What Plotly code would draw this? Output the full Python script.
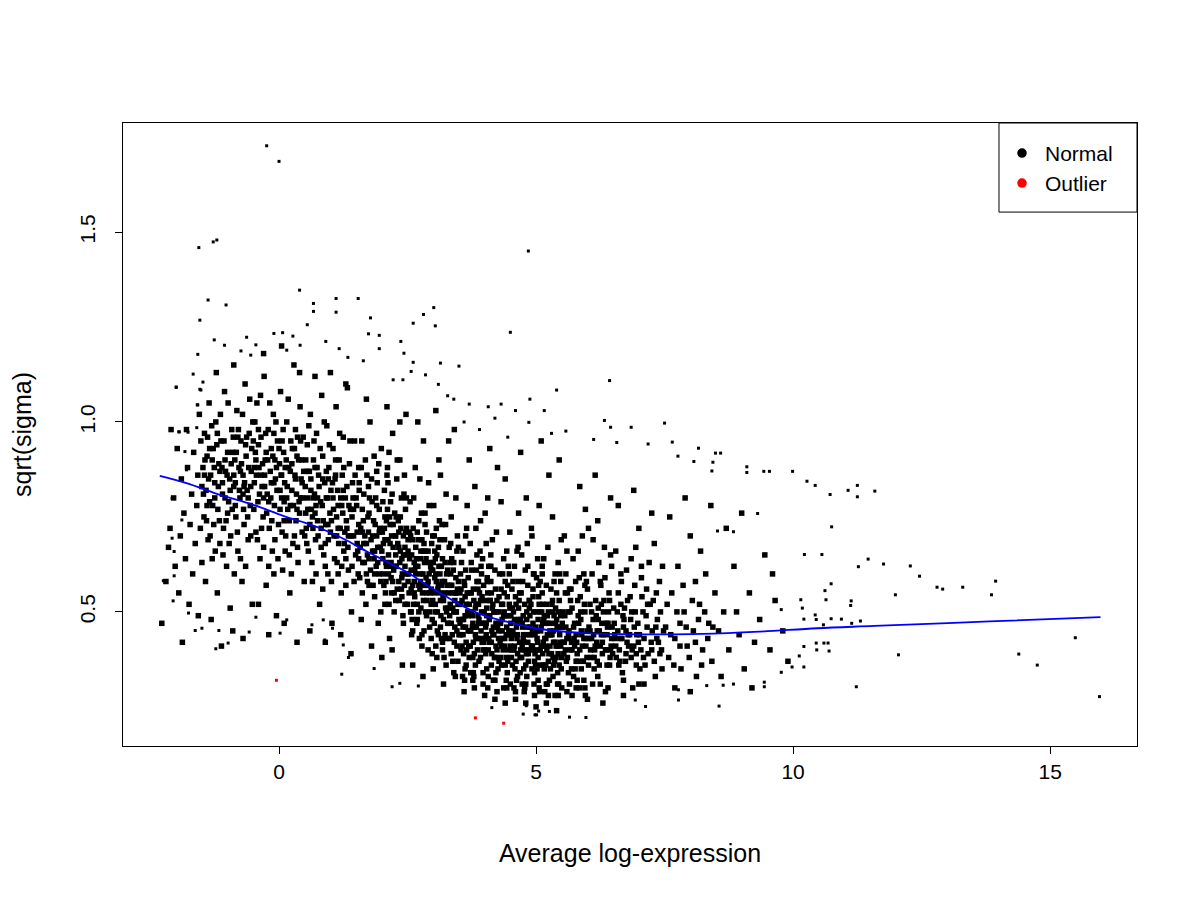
import plotly.graph_objects as go

# hand-read points of the "Normal" cloud, grouped by x band
band_a = [(-2.28, 0.47), (-2.2, 0.58), (-2.15, 0.67), (-2.12, 0.72), (-2.05, 0.80), (-2.02, 0.62),
          (-1.98, 0.93), (-1.95, 0.55), (-1.92, 0.70), (-1.9, 0.85), (-1.88, 0.42), (-1.85, 0.76),
          (-1.82, 0.64), (-1.8, 0.98), (-1.78, 0.88), (-1.75, 0.52), (-1.73, 0.73), (-1.7, 0.81),
          (-1.68, 0.60), (-1.66, 0.92), (-1.63, 0.68), (-1.6, 0.78), (-1.58, 0.86), (-1.57, 0.49),
          (-1.55, 1.02), (-1.53, 0.72), (-1.52, 0.95), (-1.5, 0.63), (-1.5, 0.83), (-2.1, 0.98)]
band_b = [(-1.48, 0.88), (-1.46, 0.75), (-1.45, 0.97), (-1.43, 0.58), (-1.42, 0.82), (-1.4, 0.91),
          (-1.38, 0.69), (-1.36, 1.05), (-1.35, 0.79), (-1.33, 0.86), (-1.3, 0.64), (-1.28, 0.93),
          (-1.27, 0.73), (-1.25, 0.84), (-1.23, 1.0), (-1.2, 0.55), (-1.19, 0.77), (-1.17, 0.89),
          (-1.15, 0.68), (-1.13, 0.95), (-1.1, 0.81), (-1.08, 0.72), (-1.06, 1.08), (-1.04, 0.87),
          (-1.02, 0.62), (-1.0, 0.92), (-0.98, 0.79), (-0.96, 0.85), (-0.94, 0.70), (-0.92, 0.98),
          (-0.9, 0.45), (-0.88, 0.83), (-0.86, 0.9), (-0.84, 0.75), (-0.82, 1.03), (-0.8, 0.66),
          (-0.78, 0.88), (-0.76, 0.8), (-0.74, 0.95), (-0.72, 0.58), (-0.7, 0.86), (-0.68, 0.73),
          (-0.66, 1.1), (-0.64, 0.91), (-0.62, 0.82), (-0.6, 0.69), (-0.58, 0.97), (-0.56, 0.78),
          (-0.54, 0.87), (-0.52, 0.52), (-0.51, 1.0), (-1.32, 0.48), (-1.12, 0.41), (-0.95, 0.51),
          (-0.7, 0.43), (-1.22, 1.13), (-0.88, 1.15),
          (-1.47, 0.81), (-1.44, 0.9), (-1.41, 0.74), (-1.39, 0.96), (-1.37, 0.85), (-1.34, 0.7),
          (-1.31, 0.99), (-1.29, 0.78), (-1.26, 0.88), (-1.24, 0.66), (-1.21, 0.94), (-1.18, 0.83),
          (-1.16, 0.74), (-1.14, 1.02), (-1.11, 0.88), (-1.09, 0.65), (-1.07, 0.95), (-1.05, 0.8),
          (-1.03, 0.74), (-1.01, 0.86), (-0.99, 1.05), (-0.97, 0.68), (-0.93, 0.89), (-0.91, 0.77),
          (-0.89, 0.96), (-0.87, 0.6), (-0.85, 0.84), (-0.83, 0.92), (-0.81, 0.71), (-0.79, 0.98),
          (-0.77, 0.82), (-0.75, 0.64), (-0.73, 0.89), (-0.71, 1.02), (-0.69, 0.77), (-0.67, 0.84),
          (-0.65, 0.62), (-0.63, 0.96), (-0.61, 0.75), (-0.59, 0.88), (-0.57, 1.06), (-0.55, 0.7),
          (-0.53, 0.93)]
band_c = [(-0.48, 0.84), (-0.46, 0.92), (-0.45, 0.71), (-0.43, 1.05), (-0.41, 0.79), (-0.39, 0.88),
          (-0.37, 0.64), (-0.35, 0.96), (-0.33, 0.83), (-0.31, 0.75), (-0.29, 1.12), (-0.27, 0.9),
          (-0.25, 0.57), (-0.23, 0.81), (-0.21, 0.98), (-0.19, 0.72), (-0.17, 0.87), (-0.15, 0.93),
          (-0.13, 0.66), (-0.11, 1.02), (-0.09, 0.78), (-0.07, 0.85), (-0.05, 0.49), (-0.03, 0.95),
          (-0.01, 0.73), (0.01, 0.89), (0.03, 1.08), (0.05, 0.8), (0.07, 0.61), (0.09, 0.92),
          (0.11, 0.84), (0.13, 0.7), (0.15, 1.0), (0.17, 0.77), (0.19, 0.88), (0.21, 0.55),
          (0.23, 0.95), (0.25, 0.82), (0.27, 0.68), (0.29, 1.15), (0.31, 0.86), (0.33, 0.74),
          (0.35, 0.91), (0.37, 0.63), (0.39, 0.79), (0.41, 1.04), (0.43, 0.85), (0.45, 0.71),
          (0.47, 0.96), (0.49, 0.58), (-0.4, 0.52), (-0.2, 0.44), (0.1, 0.47), (0.35, 0.42),
          (-0.3, 1.18), (0.05, 1.2), (0.4, 1.13), (-0.1, 0.6), (0.2, 0.65), (0.44, 0.9),
          (-0.49, 0.77), (-0.47, 1.0), (-0.44, 0.86), (-0.42, 0.69), (-0.4, 0.94), (-0.38, 0.81),
          (-0.36, 1.07), (-0.34, 0.72), (-0.32, 0.89), (-0.3, 0.67), (-0.28, 0.83), (-0.26, 0.97),
          (-0.24, 0.76), (-0.22, 0.9), (-0.2, 0.62), (-0.18, 1.05), (-0.16, 0.8), (-0.14, 0.74),
          (-0.12, 0.91), (-0.1, 0.84), (-0.08, 0.69), (-0.06, 1.0), (-0.04, 0.82), (-0.02, 0.64),
          (0.0, 0.93), (0.02, 0.77), (0.04, 0.86), (0.06, 0.71), (0.08, 0.98), (0.1, 0.79),
          (0.12, 0.66), (0.14, 0.9), (0.16, 0.83), (0.18, 1.06), (0.2, 0.74), (0.22, 0.87),
          (0.24, 0.6), (0.26, 0.93), (0.28, 0.78), (0.3, 0.7), (0.32, 0.98), (0.34, 0.81),
          (0.36, 0.67), (0.38, 0.9), (0.4, 0.76), (0.42, 0.95), (0.46, 0.8), (0.48, 0.87)]
band_d = [(0.51, 0.83), (0.53, 0.72), (0.55, 0.94), (0.57, 0.66), (0.59, 0.87), (0.61, 1.02),
          (0.63, 0.77), (0.65, 0.58), (0.67, 0.9), (0.69, 0.81), (0.71, 0.69), (0.73, 0.97),
          (0.75, 0.74), (0.77, 0.86), (0.79, 0.52), (0.81, 0.79), (0.83, 1.07), (0.85, 0.91),
          (0.87, 0.65), (0.89, 0.84), (0.91, 0.73), (0.93, 0.99), (0.95, 0.6), (0.97, 0.88),
          (0.99, 0.76), (1.01, 0.82), (1.03, 0.47), (1.05, 0.93), (1.07, 0.7), (1.09, 0.85),
          (1.11, 1.04), (1.13, 0.63), (1.15, 0.78), (1.17, 0.9), (1.19, 0.72), (1.21, 0.55),
          (1.23, 0.86), (1.25, 0.96), (1.27, 0.68), (1.29, 0.8), (1.31, 0.74), (1.33, 1.09),
          (1.35, 0.61), (1.37, 0.89), (1.39, 0.77), (1.41, 0.5), (1.43, 0.84), (1.45, 0.7),
          (1.47, 0.95), (1.49, 0.65), (0.6, 0.45), (0.9, 0.42), (1.2, 0.44), (1.4, 0.39),
          (0.7, 1.12), (1.0, 1.13), (1.3, 1.1), (0.85, 0.56), (1.15, 0.6), (0.55, 0.8),
          (0.52, 0.9), (0.54, 0.68), (0.56, 0.77), (0.58, 0.99), (0.6, 0.73), (0.62, 0.85),
          (0.64, 0.63), (0.66, 0.8), (0.68, 0.95), (0.7, 0.76), (0.72, 0.6), (0.74, 0.88),
          (0.76, 0.7), (0.78, 0.83), (0.8, 0.93), (0.82, 0.67), (0.84, 0.78), (0.86, 0.74),
          (0.88, 1.0), (0.9, 0.62), (0.92, 0.87), (0.94, 0.8), (0.96, 0.69), (0.98, 0.94),
          (1.0, 0.71), (1.02, 0.58), (1.04, 0.84), (1.06, 0.77), (1.08, 0.64), (1.1, 0.9),
          (1.12, 0.75), (1.14, 0.82), (1.16, 0.68), (1.18, 0.97), (1.2, 0.8), (1.22, 0.62),
          (1.24, 0.76), (1.26, 0.88), (1.28, 0.71), (1.3, 0.57), (1.32, 0.83), (1.34, 0.67),
          (1.36, 0.78), (1.38, 0.95), (1.4, 0.7), (1.42, 0.62), (1.44, 0.8), (1.46, 0.58),
          (1.48, 0.86)]
band_e = [(1.51, 0.78), (1.53, 0.66), (1.55, 0.88), (1.57, 0.59), (1.59, 0.72), (1.61, 0.95),
          (1.63, 0.63), (1.65, 0.81), (1.67, 0.7), (1.69, 0.52), (1.71, 0.86), (1.73, 0.75),
          (1.75, 0.64), (1.77, 1.0), (1.79, 0.69), (1.81, 0.79), (1.83, 0.57), (1.85, 0.91),
          (1.87, 0.73), (1.89, 0.62), (1.91, 0.84), (1.93, 0.47), (1.95, 0.77), (1.97, 0.67),
          (1.99, 0.93), (2.01, 0.71), (2.03, 0.6), (2.05, 0.82), (2.07, 0.55), (2.09, 0.74),
          (2.11, 0.88), (2.13, 0.65), (2.15, 0.43), (2.17, 0.79), (2.19, 0.7), (2.21, 0.97),
          (2.23, 0.61), (2.25, 0.76), (2.27, 0.53), (2.29, 0.85), (2.31, 0.68), (2.33, 0.58),
          (2.35, 0.9), (2.37, 0.72), (2.39, 0.64), (2.41, 0.49), (2.43, 0.81), (2.45, 0.67),
          (2.47, 1.02), (2.49, 0.6), (1.6, 0.48), (1.8, 0.41), (2.0, 0.38), (2.2, 0.4),
          (2.4, 0.36), (1.7, 1.06), (2.1, 1.04), (2.35, 1.0), (1.62, 0.77), (1.74, 0.83),
          (1.86, 0.66), (1.98, 0.58), (2.06, 0.69), (2.18, 0.63), (2.28, 0.75), (2.38, 0.56),
          (2.46, 0.71), (1.9, 0.87), (2.14, 0.92), (2.44, 0.86),
          (1.52, 0.71), (1.54, 0.6), (1.56, 0.82), (1.58, 0.67), (1.6, 0.88), (1.62, 0.55),
          (1.64, 0.74), (1.66, 0.63), (1.68, 0.9), (1.7, 0.68), (1.72, 0.58), (1.74, 0.71),
          (1.76, 0.8), (1.78, 0.61), (1.8, 0.85), (1.82, 0.66), (1.84, 0.74), (1.86, 0.54),
          (1.88, 0.8), (1.9, 0.7), (1.92, 0.63), (1.94, 0.89), (1.96, 0.72), (1.98, 0.5),
          (2.0, 0.66), (2.02, 0.79), (2.04, 0.57), (2.06, 0.75), (2.08, 0.63), (2.1, 0.86),
          (2.12, 0.69), (2.14, 0.52), (2.16, 0.73), (2.18, 0.59), (2.2, 0.81), (2.22, 0.67),
          (2.24, 0.55), (2.26, 0.7), (2.28, 0.62), (2.3, 0.9), (2.32, 0.74), (2.34, 0.53),
          (2.36, 0.66), (2.38, 0.8), (2.4, 0.6), (2.42, 0.7), (2.44, 0.57), (2.46, 0.77),
          (2.48, 0.65), (2.5, 0.52), (1.55, 0.64), (1.75, 0.57), (1.95, 0.6), (2.15, 0.62),
          (2.35, 0.63)]
band_f = [(2.51, 0.66), (2.53, 0.55), (2.55, 0.79), (2.57, 0.61), (2.59, 0.48), (2.61, 0.72),
          (2.63, 0.58), (2.65, 0.88), (2.67, 0.64), (2.69, 0.52), (2.71, 0.69), (2.73, 0.43),
          (2.75, 0.6), (2.77, 0.76), (2.79, 0.55), (2.81, 0.95), (2.83, 0.63), (2.85, 0.5),
          (2.87, 0.71), (2.89, 0.57), (2.91, 0.84), (2.93, 0.46), (2.95, 0.62), (2.97, 0.68),
          (2.99, 0.53), (3.01, 0.78), (3.03, 0.59), (3.05, 0.41), (3.07, 0.65), (3.09, 0.56),
          (3.11, 0.9), (3.13, 0.6), (3.15, 0.49), (3.17, 0.73), (3.19, 0.54), (3.21, 0.38),
          (3.23, 0.63), (3.25, 0.81), (3.27, 0.57), (3.29, 0.47), (3.31, 0.67), (3.33, 0.52),
          (3.35, 0.75), (3.37, 0.44), (3.39, 0.61), (3.41, 0.98), (3.43, 0.55), (3.45, 0.5),
          (3.47, 0.7), (3.49, 0.58), (2.6, 0.36), (2.8, 0.33), (3.0, 0.35), (3.2, 0.31),
          (3.4, 0.34), (2.7, 1.0), (3.05, 1.03), (3.3, 0.95), (2.56, 0.7), (2.66, 0.6),
          (2.76, 0.66), (2.86, 0.59), (2.96, 0.52), (3.06, 0.72), (3.16, 0.62), (3.26, 0.5),
          (3.36, 0.64), (3.46, 0.45), (2.62, 0.52), (2.72, 0.57), (2.82, 0.68), (2.92, 0.6),
          (3.02, 0.47), (3.12, 0.55), (3.22, 0.69), (3.32, 0.43), (3.42, 0.53), (2.9, 0.4),
          (3.1, 0.44), (3.35, 0.39),
          (2.52, 0.6), (2.54, 0.71), (2.56, 0.5), (2.58, 0.65), (2.6, 0.57), (2.62, 0.8),
          (2.64, 0.54), (2.66, 0.67), (2.68, 0.47), (2.7, 0.62), (2.72, 0.74), (2.74, 0.56),
          (2.76, 0.51), (2.78, 0.69), (2.8, 0.6), (2.82, 0.45), (2.84, 0.73), (2.86, 0.64),
          (2.88, 0.53), (2.9, 0.66), (2.92, 0.78), (2.94, 0.55), (2.96, 0.61), (2.98, 0.48),
          (3.0, 0.63), (3.02, 0.7), (3.04, 0.52), (3.06, 0.58), (3.08, 0.45), (3.1, 0.67),
          (3.12, 0.74), (3.14, 0.53), (3.16, 0.57), (3.18, 0.64), (3.2, 0.48), (3.22, 0.58),
          (3.24, 0.73), (3.26, 0.43), (3.28, 0.61), (3.3, 0.55), (3.32, 0.49), (3.34, 0.68),
          (3.36, 0.57), (3.38, 0.51), (3.4, 0.63), (3.42, 0.46), (3.44, 0.59), (3.46, 0.66),
          (3.48, 0.52), (3.5, 0.48), (2.58, 0.44), (2.78, 0.41), (2.98, 0.39), (3.18, 0.42),
          (3.38, 0.37), (2.74, 0.85), (3.14, 0.86), (3.44, 0.8), (2.64, 0.61), (2.84, 0.57),
          (3.04, 0.64), (3.24, 0.51), (3.44, 0.55)]
band_g = [(3.51, 0.52), (3.53, 0.44), (3.55, 0.63), (3.57, 0.48), (3.59, 0.39), (3.61, 0.57),
          (3.63, 0.46), (3.65, 0.72), (3.67, 0.5), (3.69, 0.41), (3.71, 0.55), (3.73, 0.34),
          (3.75, 0.61), (3.77, 0.47), (3.79, 0.53), (3.81, 0.83), (3.83, 0.43), (3.85, 0.58),
          (3.87, 0.49), (3.89, 0.37), (3.91, 0.66), (3.93, 0.45), (3.95, 0.54), (3.97, 0.4),
          (3.99, 0.5), (4.01, 0.76), (4.03, 0.44), (4.05, 0.59), (4.07, 0.33), (4.09, 0.48),
          (4.11, 0.53), (4.13, 0.42), (4.15, 0.69), (4.17, 0.46), (4.19, 0.38), (4.21, 0.56),
          (4.23, 0.5), (4.25, 0.88), (4.27, 0.43), (4.29, 0.6), (4.31, 0.47), (4.33, 0.36),
          (4.35, 0.52), (4.37, 0.64), (4.39, 0.41), (4.41, 0.49), (4.43, 0.3), (4.45, 0.57),
          (4.47, 0.45), (4.49, 0.71), (3.6, 0.29), (3.8, 0.3), (4.0, 0.28), (4.2, 0.27),
          (4.4, 0.26), (3.7, 0.9), (4.1, 0.93), (4.4, 0.85), (3.54, 0.56), (3.64, 0.42),
          (3.74, 0.5), (3.84, 0.46), (3.94, 0.6), (4.04, 0.51), (4.14, 0.45), (4.24, 0.4),
          (4.34, 0.48), (4.44, 0.54), (3.58, 0.66), (3.68, 0.59), (3.78, 0.42), (3.88, 0.52),
          (3.98, 0.47), (4.08, 0.62), (4.18, 0.5), (4.28, 0.37), (4.38, 0.55), (4.48, 0.44),
          (3.62, 0.35), (3.82, 0.36), (4.02, 0.39), (4.22, 0.34), (4.42, 0.38), (3.72, 0.68),
          (3.92, 0.74), (4.12, 0.65), (4.32, 0.79), (3.66, 0.78), (4.06, 0.8), (4.46, 0.62),
          (3.52, 0.47), (3.54, 0.4), (3.56, 0.53), (3.58, 0.44), (3.6, 0.58), (3.62, 0.49),
          (3.64, 0.36), (3.66, 0.55), (3.68, 0.45), (3.7, 0.52), (3.72, 0.41), (3.74, 0.63),
          (3.76, 0.46), (3.78, 0.56), (3.8, 0.39), (3.82, 0.51), (3.84, 0.61), (3.86, 0.43),
          (3.88, 0.47), (3.9, 0.55), (3.92, 0.38), (3.94, 0.5), (3.96, 0.64), (3.98, 0.42),
          (4.0, 0.53), (4.02, 0.46), (4.04, 0.35), (4.06, 0.55), (4.08, 0.43), (4.1, 0.49),
          (4.12, 0.58), (4.14, 0.39), (4.16, 0.52), (4.18, 0.44), (4.2, 0.61), (4.22, 0.47),
          (4.24, 0.53), (4.26, 0.35), (4.28, 0.5), (4.3, 0.42), (4.32, 0.56), (4.34, 0.45),
          (4.36, 0.4), (4.38, 0.5), (4.4, 0.58), (4.42, 0.44), (4.44, 0.34), (4.46, 0.49),
          (4.48, 0.52), (4.5, 0.41), (3.57, 0.33), (3.77, 0.32), (3.97, 0.31), (4.17, 0.32),
          (4.37, 0.3), (3.63, 0.7), (3.83, 0.72), (4.03, 0.68), (4.23, 0.71), (4.43, 0.66),
          (3.53, 0.6), (3.73, 0.45), (3.93, 0.43), (4.13, 0.55), (4.33, 0.41), (3.87, 0.56),
          (4.27, 0.47)]
band_h = [(4.51, 0.47), (4.53, 0.4), (4.55, 0.58), (4.57, 0.44), (4.59, 0.35), (4.61, 0.52),
          (4.63, 0.43), (4.65, 0.67), (4.67, 0.48), (4.69, 0.38), (4.71, 0.55), (4.73, 0.31),
          (4.75, 0.49), (4.77, 0.42), (4.79, 0.61), (4.81, 0.8), (4.83, 0.46), (4.85, 0.37),
          (4.87, 0.53), (4.89, 0.44), (4.91, 0.72), (4.93, 0.41), (4.95, 0.5), (4.97, 0.34),
          (4.99, 0.46), (5.01, 0.59), (5.03, 0.4), (5.05, 0.54), (5.07, 0.29), (5.09, 0.45),
          (5.11, 0.5), (5.13, 0.39), (5.15, 0.64), (5.17, 0.43), (5.19, 0.36), (5.21, 0.52),
          (5.23, 0.47), (5.25, 0.86), (5.27, 0.41), (5.29, 0.56), (5.31, 0.44), (5.33, 0.33),
          (5.35, 0.49), (5.37, 0.6), (5.39, 0.38), (5.41, 0.46), (5.43, 0.28), (5.45, 0.53),
          (5.47, 0.42), (5.49, 0.69), (4.6, 0.27), (4.8, 0.26), (5.0, 0.25), (5.2, 0.26),
          (5.4, 0.24), (4.7, 0.92), (5.1, 0.95), (5.45, 0.9), (4.54, 0.51), (4.64, 0.39),
          (4.74, 0.46), (4.84, 0.42), (4.94, 0.56), (5.04, 0.48), (5.14, 0.42), (5.24, 0.37),
          (5.34, 0.45), (5.44, 0.5), (4.58, 0.62), (4.68, 0.55), (4.78, 0.4), (4.88, 0.49),
          (4.98, 0.44), (5.08, 0.58), (5.18, 0.47), (5.28, 0.35), (5.38, 0.51), (5.48, 0.41),
          (4.62, 0.32), (4.82, 0.33), (5.02, 0.35), (5.22, 0.31), (5.42, 0.34), (4.72, 0.65),
          (4.92, 0.7), (5.12, 0.62), (5.32, 0.75), (4.66, 0.76), (5.06, 0.78), (5.46, 0.6),
          (4.52, 0.43), (4.54, 0.36), (4.56, 0.5), (4.58, 0.41), (4.6, 0.54), (4.62, 0.46),
          (4.64, 0.33), (4.66, 0.51), (4.68, 0.42), (4.7, 0.48), (4.72, 0.38), (4.74, 0.58),
          (4.76, 0.44), (4.78, 0.52), (4.8, 0.36), (4.82, 0.48), (4.84, 0.57), (4.86, 0.4),
          (4.88, 0.44), (4.9, 0.52), (4.92, 0.35), (4.94, 0.47), (4.96, 0.6), (4.98, 0.39),
          (5.0, 0.5), (5.02, 0.43), (5.04, 0.32), (5.06, 0.52), (5.08, 0.4), (5.1, 0.46),
          (5.12, 0.55), (5.14, 0.36), (5.16, 0.49), (5.18, 0.41), (5.2, 0.57), (5.22, 0.44),
          (5.24, 0.5), (5.26, 0.32), (5.28, 0.47), (5.3, 0.39), (5.32, 0.53), (5.34, 0.42),
          (5.36, 0.37), (5.38, 0.47), (5.4, 0.55), (5.42, 0.41), (5.44, 0.31), (5.46, 0.46),
          (5.48, 0.49), (5.5, 0.38), (4.57, 0.3), (4.77, 0.29), (4.97, 0.28), (5.17, 0.29),
          (5.37, 0.28), (4.63, 0.66), (4.83, 0.68), (5.03, 0.64), (5.23, 0.67), (5.43, 0.63),
          (4.53, 0.56), (4.73, 0.41), (4.93, 0.4), (5.13, 0.52), (5.33, 0.38), (4.87, 0.53),
          (5.27, 0.44)]
band_i = [(5.51, 0.46), (5.54, 0.39), (5.57, 0.55), (5.6, 0.43), (5.63, 0.34), (5.66, 0.5),
          (5.69, 0.42), (5.72, 0.64), (5.75, 0.47), (5.78, 0.37), (5.81, 0.53), (5.84, 0.3),
          (5.87, 0.48), (5.9, 0.41), (5.93, 0.6), (5.96, 0.77), (5.99, 0.45), (6.02, 0.36),
          (6.05, 0.52), (6.08, 0.43), (6.11, 0.69), (6.14, 0.4), (6.17, 0.49), (6.2, 0.33),
          (6.23, 0.45), (6.26, 0.57), (6.29, 0.39), (6.32, 0.53), (6.35, 0.29), (6.38, 0.44),
          (6.41, 0.5), (6.44, 0.38), (6.47, 0.62), (5.55, 0.7), (5.7, 0.28), (5.85, 0.83),
          (6.0, 0.27), (6.15, 0.86), (6.3, 0.26), (6.45, 0.8), (5.58, 0.6), (5.68, 0.56),
          (5.78, 0.44), (5.88, 0.35), (5.98, 0.58), (6.08, 0.5), (6.18, 0.42), (6.28, 0.47),
          (6.38, 0.36), (6.48, 0.46), (5.62, 0.5), (5.82, 0.66), (6.02, 0.72), (6.22, 0.63),
          (6.42, 0.55), (5.73, 0.33), (5.93, 0.32), (6.13, 0.35), (6.33, 0.67), (6.46, 0.41),
          (5.52, 0.42), (5.56, 0.49), (5.59, 0.37), (5.61, 0.55), (5.64, 0.45), (5.67, 0.4),
          (5.7, 0.51), (5.74, 0.43), (5.77, 0.58), (5.8, 0.39), (5.83, 0.47), (5.86, 0.54),
          (5.89, 0.44), (5.92, 0.37), (5.95, 0.5), (5.97, 0.41), (6.0, 0.56), (6.03, 0.46),
          (6.06, 0.4), (6.09, 0.6), (6.12, 0.44), (6.16, 0.53), (6.19, 0.37), (6.21, 0.48),
          (6.25, 0.41), (6.27, 0.52), (6.31, 0.44), (6.34, 0.59), (6.37, 0.4), (6.4, 0.47),
          (6.43, 0.53), (6.49, 0.39), (5.65, 0.31), (5.95, 0.3), (6.25, 0.31), (5.6, 0.66),
          (5.9, 0.7), (6.2, 0.74), (6.45, 0.65)]
band_j = [(6.52, 0.47), (6.56, 0.38), (6.6, 0.55), (6.64, 0.43), (6.68, 0.34), (6.72, 0.51),
          (6.76, 0.61), (6.8, 0.41), (6.84, 0.48), (6.88, 0.3), (6.92, 0.57), (6.96, 0.44),
          (7.0, 0.72), (7.04, 0.4), (7.08, 0.5), (7.12, 0.36), (7.16, 0.46), (7.2, 0.63),
          (7.24, 0.42), (7.28, 0.53), (7.32, 0.33), (7.36, 0.48), (7.4, 0.58), (7.44, 0.4),
          (7.48, 0.45), (6.6, 0.78), (6.9, 0.82), (7.25, 0.76), (6.7, 0.28), (7.1, 0.31),
          (6.55, 0.66), (6.75, 0.45), (6.95, 0.39), (7.15, 0.56), (7.35, 0.43), (6.65, 0.52),
          (6.85, 0.64), (7.05, 0.59), (7.3, 0.68), (7.45, 0.35),
          (6.54, 0.43), (6.58, 0.5), (6.62, 0.4), (6.66, 0.58), (6.7, 0.46), (6.74, 0.37),
          (6.78, 0.53), (6.82, 0.44), (6.86, 0.5), (6.9, 0.41), (6.94, 0.67), (6.98, 0.47),
          (7.02, 0.35), (7.06, 0.54), (7.1, 0.43), (7.14, 0.49), (7.18, 0.39), (7.22, 0.52),
          (7.26, 0.45), (7.3, 0.37), (7.34, 0.55), (7.38, 0.42), (7.42, 0.5), (7.46, 0.62)]
band_k = [(7.52, 0.46), (7.58, 0.38), (7.64, 0.55), (7.7, 0.43), (7.76, 0.62), (7.82, 0.35),
          (7.88, 0.5), (7.94, 0.41), (8.0, 0.7), (8.06, 0.45), (8.12, 0.33), (8.18, 0.52),
          (8.24, 0.4), (8.3, 0.6), (8.36, 0.47), (8.42, 0.37), (8.48, 0.55), (7.6, 0.75),
          (7.9, 0.8), (8.2, 0.66), (7.7, 0.3), (8.0, 0.29), (8.4, 0.78), (7.8, 0.47), (8.1, 0.58),
          (7.55, 0.52), (7.62, 0.44), (7.68, 0.36), (7.74, 0.5), (7.8, 0.41), (7.86, 0.57),
          (7.92, 0.46), (7.98, 0.38), (8.04, 0.53), (8.1, 0.42), (8.16, 0.48), (8.22, 0.36),
          (8.28, 0.5), (8.34, 0.43), (8.44, 0.46)]
band_l = [(8.55, 0.45), (8.65, 0.5), (8.75, 0.4), (8.85, 0.62), (8.95, 0.44), (9.05, 0.35),
          (9.15, 0.55), (9.25, 0.42), (9.35, 0.48), (9.45, 0.65), (9.55, 0.4), (9.65, 0.53),
          (9.8, 0.45), (9.9, 0.37), (8.7, 0.72), (9.0, 0.76), (8.6, 0.33), (9.2, 0.3),
          (9.6, 0.6), (8.9, 0.5)]
# extra points where the cloud is nearly solid
core_dense = [(2.02, 0.64), (2.05, 0.72), (2.08, 0.58), (2.11, 0.77), (2.13, 0.6), (2.16, 0.68),
              (2.19, 0.55), (2.22, 0.73), (2.25, 0.62), (2.27, 0.7), (2.3, 0.56), (2.33, 0.67),
              (2.36, 0.75), (2.39, 0.59), (2.42, 0.65), (2.45, 0.52), (2.48, 0.72), (2.51, 0.58),
              (2.54, 0.64), (2.57, 0.5), (2.6, 0.69), (2.63, 0.55), (2.66, 0.62), (2.69, 0.71),
              (2.72, 0.5), (2.75, 0.64), (2.78, 0.57), (2.81, 0.53), (2.84, 0.66), (2.87, 0.49),
              (2.9, 0.58), (2.93, 0.63), (2.96, 0.56), (2.99, 0.7),
              (3.02, 0.55), (3.05, 0.6), (3.08, 0.5), (3.11, 0.62), (3.14, 0.46), (3.17, 0.58),
              (3.2, 0.53), (3.23, 0.44), (3.26, 0.6), (3.29, 0.51), (3.32, 0.57), (3.35, 0.47),
              (3.38, 0.55), (3.41, 0.42), (3.44, 0.5), (3.47, 0.56), (3.5, 0.44), (3.53, 0.52),
              (3.56, 0.41), (3.59, 0.48), (3.62, 0.54), (3.65, 0.4), (3.68, 0.49), (3.71, 0.45),
              (3.74, 0.55), (3.77, 0.38), (3.8, 0.46), (3.83, 0.52), (3.86, 0.4), (3.89, 0.48),
              (3.92, 0.53), (3.95, 0.42), (3.98, 0.57), (3.03, 0.66), (3.33, 0.63), (3.63, 0.61),
              (3.93, 0.62), (3.18, 0.4), (3.48, 0.37), (3.78, 0.34),
              (4.01, 0.43), (4.04, 0.49), (4.07, 0.4), (4.1, 0.53), (4.13, 0.36), (4.16, 0.44),
              (4.19, 0.5), (4.22, 0.41), (4.25, 0.46), (4.28, 0.54), (4.31, 0.38), (4.34, 0.43),
              (4.37, 0.49), (4.4, 0.36), (4.43, 0.46), (4.46, 0.4), (4.49, 0.51), (4.52, 0.38),
              (4.55, 0.45), (4.58, 0.48), (4.61, 0.37), (4.64, 0.44), (4.67, 0.53), (4.7, 0.4),
              (4.73, 0.47), (4.76, 0.35), (4.79, 0.44), (4.82, 0.5), (4.85, 0.39), (4.88, 0.46),
              (4.91, 0.41), (4.94, 0.54), (4.97, 0.37), (4.05, 0.58), (4.35, 0.6), (4.65, 0.58),
              (4.95, 0.6), (4.2, 0.32), (4.5, 0.31), (4.8, 0.31),
              (5.01, 0.45), (5.04, 0.38), (5.07, 0.5), (5.1, 0.41), (5.13, 0.47), (5.16, 0.35),
              (5.19, 0.43), (5.22, 0.49), (5.25, 0.39), (5.28, 0.44), (5.31, 0.52), (5.34, 0.36),
              (5.37, 0.42), (5.4, 0.48), (5.43, 0.39), (5.46, 0.44), (5.49, 0.35), (5.52, 0.5),
              (5.55, 0.42), (5.58, 0.46), (5.61, 0.38), (5.64, 0.43), (5.67, 0.53), (5.7, 0.4),
              (5.73, 0.46), (5.76, 0.35), (5.79, 0.42), (5.82, 0.49), (5.85, 0.4), (5.88, 0.45),
              (5.91, 0.37), (5.94, 0.52), (5.97, 0.43), (5.05, 0.57), (5.35, 0.58), (5.65, 0.56),
              (5.95, 0.57), (5.2, 0.31), (5.5, 0.3), (5.8, 0.32),
              (6.03, 0.43), (6.07, 0.38), (6.11, 0.48), (6.15, 0.41), (6.19, 0.45), (6.23, 0.36),
              (6.27, 0.44), (6.31, 0.5), (6.35, 0.4), (6.39, 0.46), (6.43, 0.36), (6.47, 0.43),
              (6.51, 0.51), (6.55, 0.41), (6.59, 0.45), (6.63, 0.37), (6.67, 0.43), (6.71, 0.48),
              (6.75, 0.39), (6.79, 0.44), (6.83, 0.54), (6.87, 0.4), (6.91, 0.46), (6.95, 0.36),
              (6.99, 0.42),
              (0.02, 0.82), (0.12, 0.88), (0.22, 0.78), (0.32, 0.85), (0.42, 0.8), (0.52, 0.76),
              (0.62, 0.82), (0.72, 0.78), (0.82, 0.72), (0.92, 0.8), (1.02, 0.74), (1.12, 0.7),
              (1.22, 0.78), (1.32, 0.72), (1.42, 0.75), (1.52, 0.68), (1.62, 0.71), (1.72, 0.65),
              (1.82, 0.7), (1.92, 0.67), (-0.08, 0.9), (-0.28, 0.86), (-0.48, 0.88), (-0.68, 0.83),
              (-0.88, 0.86), (0.06, 0.95), (0.36, 0.96), (0.66, 0.72), (0.96, 0.85), (1.26, 0.66),
              (1.56, 0.84), (1.86, 0.6)]
core_extra = [(-1.45, 0.86), (-1.35, 0.93), (-1.25, 0.8), (-1.15, 0.87), (-1.05, 0.9), (-0.95, 0.82),
              (-0.85, 0.78), (-0.75, 0.87), (-0.65, 0.94), (-0.55, 0.83), (-0.45, 0.9), (-0.35, 0.86),
              (-0.25, 0.92), (-0.15, 0.84), (-0.05, 0.88), (-1.4, 0.78), (-1.2, 0.97), (-1.0, 0.76),
              (-0.8, 0.96), (-0.6, 0.8), (-0.4, 0.98), (-0.2, 0.79), (-1.3, 0.9), (-1.1, 0.84),
              (-0.9, 0.92), (-0.7, 0.81), (-0.5, 0.95), (-0.3, 0.8), (-0.1, 0.97),
              (0.05, 0.86), (0.15, 0.8), (0.25, 0.89), (0.35, 0.77), (0.45, 0.84), (0.55, 0.87),
              (0.65, 0.75), (0.75, 0.8), (0.85, 0.85), (0.95, 0.73), (1.05, 0.8), (1.15, 0.72),
              (1.25, 0.82), (1.35, 0.7), (1.45, 0.77), (1.55, 0.73), (1.65, 0.68), (1.75, 0.76),
              (1.85, 0.64), (1.95, 0.71), (0.1, 0.74), (0.3, 0.93), (0.5, 0.7), (0.7, 0.88),
              (0.9, 0.68), (1.1, 0.86), (1.3, 0.64), (1.5, 0.8), (1.7, 0.6), (1.9, 0.78),
              (2.03, 0.68), (2.09, 0.62), (2.15, 0.75), (2.21, 0.58), (2.27, 0.65), (2.33, 0.71),
              (2.39, 0.54), (2.45, 0.62), (2.51, 0.69), (2.57, 0.56), (2.63, 0.63), (2.69, 0.48),
              (2.75, 0.58), (2.81, 0.66), (2.87, 0.55), (2.93, 0.5), (2.99, 0.61), (2.06, 0.52),
              (2.24, 0.5), (2.42, 0.47), (2.6, 0.45), (2.78, 0.44), (2.96, 0.43), (2.12, 0.84),
              (2.48, 0.8), (2.84, 0.76),
              (3.04, 0.5), (3.1, 0.57), (3.16, 0.43), (3.22, 0.55), (3.28, 0.47), (3.34, 0.6),
              (3.4, 0.5), (3.46, 0.41), (3.52, 0.55), (3.58, 0.46), (3.64, 0.52), (3.7, 0.38),
              (3.76, 0.49), (3.82, 0.44), (3.88, 0.58), (3.94, 0.47), (4.0, 0.4), (3.07, 0.38),
              (3.25, 0.36), (3.43, 0.33), (3.61, 0.32), (3.79, 0.33), (3.97, 0.34), (3.13, 0.69),
              (3.49, 0.67), (3.85, 0.65),
              (4.03, 0.47), (4.09, 0.42), (4.15, 0.51), (4.21, 0.38), (4.27, 0.45), (4.33, 0.52),
              (4.39, 0.43), (4.45, 0.37), (4.51, 0.49), (4.57, 0.4), (4.63, 0.47), (4.69, 0.34),
              (4.75, 0.43), (4.81, 0.39), (4.87, 0.51), (4.93, 0.45), (4.99, 0.36), (4.06, 0.3),
              (4.24, 0.29), (4.42, 0.32), (4.6, 0.29), (4.78, 0.3), (4.96, 0.31), (4.12, 0.62),
              (4.48, 0.6), (4.84, 0.62),
              (5.03, 0.42), (5.09, 0.36), (5.15, 0.48), (5.21, 0.4), (5.27, 0.45), (5.33, 0.5),
              (5.39, 0.41), (5.45, 0.36), (5.51, 0.47), (5.57, 0.4), (5.63, 0.44), (5.69, 0.35),
              (5.75, 0.41), (5.81, 0.37), (5.87, 0.5), (5.93, 0.43), (5.99, 0.38), (5.06, 0.3),
              (5.24, 0.28), (5.42, 0.31), (5.6, 0.29), (5.78, 0.3), (5.96, 0.28), (5.12, 0.6),
              (5.48, 0.58), (5.84, 0.59),
              (6.05, 0.45), (6.13, 0.38), (6.21, 0.51), (6.29, 0.42), (6.37, 0.47), (6.45, 0.4),
              (6.53, 0.44), (6.61, 0.36), (6.69, 0.49), (6.77, 0.42), (6.85, 0.38), (6.93, 0.5),
              (7.01, 0.44), (7.09, 0.38), (7.17, 0.52), (7.25, 0.4), (7.33, 0.46), (7.41, 0.39),
              (6.1, 0.31), (6.4, 0.3), (6.7, 0.32), (7.0, 0.31), (6.25, 0.58), (6.65, 0.6),
              (7.05, 0.62)]

# scattered points outside the main cloud
top_sparse = [(-0.24, 1.727), (0.0, 1.686), (-1.56, 1.459), (-1.28, 1.474), (-1.21, 1.479), (4.85, 1.45),
              (-1.38, 1.321), (-1.03, 1.308), (-1.54, 1.268), (0.40, 1.347), (0.67, 1.312), (0.67, 1.291),
              (1.11, 1.325), (1.11, 1.289), (1.54, 1.325), (3.01, 1.301), (2.81, 1.283), (3.04, 1.253),
              (2.61, 1.26), (4.50, 1.236), (0.55, 1.256), (1.78, 1.274), (-0.10, 1.233), (0.07, 1.235),
              (0.27, 1.226), (-0.63, 1.223), (-0.45, 1.203), (-1.26, 1.216), (-1.06, 1.202), (0.91, 1.212),
              (1.17, 1.193), (1.74, 1.232), (1.95, 1.228), (2.37, 1.212), (2.43, 1.181), (1.95, 1.193),
              (0.41, 1.202), (0.15, 1.189), (-1.58, 1.178), (-0.74, 1.187), (-0.55, 1.176), (1.34, 1.170),
              (1.64, 1.161), (2.61, 1.157), (3.14, 1.155), (3.50, 1.147), (4.88, 1.060), (3.70, 1.047),
              (4.07, 1.040), (4.32, 1.047), (3.28, 1.069), (3.10, 1.099), (2.85, 1.124), (2.57, 1.133),
              (2.41, 1.111), (2.22, 1.111), (-2.0, 1.092), (-1.67, 1.126), (-1.48, 1.105), (-1.54, 1.086),
              (-1.58, 1.045), (-1.95, 0.974), (-1.77, 0.973), (-1.60, 0.985), (4.86, 0.999),
              (3.6, 1.0), (3.9, 0.98), (4.2, 1.01), (4.6, 1.03), (5.3, 0.97), (3.4, 1.06), (4.45, 0.96)]
left_sparse = [(-2.00, 1.091), (-1.52, 1.084), (-1.59, 1.045), (-1.94, 0.974), (-1.83, 0.922),
               (-1.80, 0.874), (-2.08, 0.799), (-1.89, 0.742), (-2.08, 0.694), (-2.04, 0.659),
               (-2.25, 0.582), (-2.04, 0.595), (-2.06, 0.529), (-2.30, 0.468), (-1.86, 0.418),
               (-1.23, 0.403), (-0.99, 0.418), (-1.17, 0.451), (-1.63, 0.451), (-1.50, 0.457),
               (-1.76, 0.497), (-0.45, 0.486), (-0.58, 0.447), (0.15, 0.479), (0.02, 0.444),
               (0.64, 0.466), (0.86, 0.479), (1.04, 0.457), (1.25, 0.413), (1.22, 0.336),
               (1.35, 0.380), (0.89, 0.426), (1.85, 0.351), (2.20, 0.303), (2.35, 0.312),
               (2.71, 0.305), (4.14, 0.248), (4.81, 0.253), (4.75, 0.231), (5.01, 0.229)]
right_sparse = [(6.43, 1.109), (5.40, 1.084), (5.16, 1.030), (6.33, 1.004), (7.50, 0.997), (6.85, 0.986),
                (6.45, 0.986), (5.58, 0.976), (6.12, 0.954), (6.57, 0.946), (7.18, 0.942), (7.65, 0.947),
                (8.16, 0.931), (8.49, 0.918), (8.59, 0.918), (7.76, 0.910), (8.07, 0.896), (8.44, 0.894),
                (8.42, 0.871), (9.10, 0.882), (9.10, 0.867), (9.43, 0.870), (9.54, 0.870), (9.99, 0.870),
                (10.27, 0.844), (10.43, 0.833), (10.72, 0.809), (11.07, 0.820), (11.25, 0.833), (11.25, 0.803),
                (11.59, 0.818), (9.31, 0.759), (10.75, 0.724), (8.53, 0.713), (8.84, 0.711), (10.22, 0.651),
                (10.56, 0.651), (11.46, 0.639), (11.27, 0.619), (11.76, 0.626), (12.28, 0.621), (12.46, 0.594),
                (13.94, 0.581), (13.86, 0.545), (12.80, 0.565), (12.91, 0.560), (13.30, 0.565), (11.99, 0.545),
                (10.74, 0.574), (10.62, 0.556), (10.64, 0.532), (11.13, 0.529), (11.12, 0.517), (10.15, 0.532),
                (10.18, 0.510), (9.77, 0.506), (10.21, 0.481), (10.43, 0.492), (10.45, 0.480), (10.59, 0.466),
                (10.74, 0.482), (10.94, 0.481), (11.14, 0.470), (11.31, 0.476), (15.49, 0.432), (12.05, 0.387),
                (14.39, 0.389), (14.75, 0.360), (11.23, 0.303), (15.96, 0.277), (10.46, 0.400), (10.45, 0.418),
                (10.60, 0.418), (10.68, 0.418), (10.70, 0.397), (10.21, 0.409), (10.21, 0.355), (10.12, 0.384),
                (9.98, 0.355), (9.77, 0.341), (9.44, 0.315), (9.44, 0.303), (8.56, 0.252), (8.84, 0.310),
                (8.64, 0.307), (8.32, 0.306), (7.77, 0.295), (7.77, 0.268), (7.13, 0.251), (6.93, 0.268),
                (5.97, 0.222), (5.65, 0.223), (5.26, 0.238), (5.05, 0.239), (4.98, 0.229)]

outlier_x = [-0.05, 3.82, 4.37]
outlier_y = [0.320, 0.221, 0.207]

trend_x = [-2.32, -1.80, -1.15, -0.50, 0.08, 0.54, 0.93, 1.32, 1.71, 2.10, 2.55, 2.87, 3.26,
           3.65, 4.04, 4.56, 5.08, 5.95, 7.12, 8.23, 9.35, 10.47, 11.58, 13.82, 15.98]
trend_y = [0.858, 0.839, 0.808, 0.782, 0.753, 0.733, 0.713, 0.688, 0.659, 0.632, 0.600, 0.571, 0.540,
           0.510, 0.488, 0.470, 0.455, 0.444, 0.441, 0.442, 0.448, 0.457, 0.463, 0.475, 0.486]

legend_labels = ['Normal', 'Outlier']
legend_colors = ['black', 'red']

cloud = (band_a + band_b + band_c + band_d + band_e + band_f + band_g + band_h + band_i
         + band_j + band_k + band_l + core_dense + core_extra)
sparse = top_sparse + left_sparse + right_sparse

font = dict(family="Liberation Sans, Arial, Helvetica, sans-serif", size=21, color="black")

fig = go.Figure()
fig.add_trace(go.Scatter(x=[p[0] for p in cloud], y=[p[1] for p in cloud], mode='markers',
                         showlegend=False,
                         marker=dict(symbol='square', size=5.5, color='black', line=dict(width=0))))
fig.add_trace(go.Scatter(x=[p[0] for p in sparse], y=[p[1] for p in sparse], mode='markers',
                         showlegend=False,
                         marker=dict(symbol='square', size=3, color='black', line=dict(width=0))))
fig.add_trace(go.Scatter(x=outlier_x, y=outlier_y, mode='markers', showlegend=False,
                         marker=dict(symbol='square', size=3, color='red', line=dict(width=0))))
fig.add_trace(go.Scatter(x=trend_x, y=trend_y, mode='lines', line_shape='spline', showlegend=False,
                         line=dict(color='blue', width=1.8)))

# R-style legend box in the top right corner of the plot frame
fig.add_shape(type='rect', xref='paper', yref='paper', x0=0.8639, x1=1.0, y0=0.857, y1=1.0,
              line=dict(color='black', width=1), fillcolor='white', layer='above')
for i, (lab, col) in enumerate(zip(legend_labels, legend_colors)):
    yc = 0.9518 - i * 0.0482
    fig.add_shape(type='circle', xref='paper', yref='paper', x0=0.8866 - 0.0047, x1=0.8866 + 0.0047,
                  y0=yc - 0.0077, y1=yc + 0.0077, fillcolor=col, line=dict(color=col, width=0),
                  layer='above')
    fig.add_annotation(text=lab, xref='paper', yref='paper', x=0.9073, y=yc, xanchor='left',
                       yanchor='middle', showarrow=False, font=dict(size=21))

fig.update_layout(
    width=1200, height=900,
    margin=dict(l=115, r=71, t=115, b=162),
    paper_bgcolor='white', plot_bgcolor='white',
    font=font, showlegend=False,
)
fig.update_xaxes(range=[-3.035, 16.69], tickvals=[0, 5, 10, 15], ticks='outside', ticklen=7,
                 tickcolor='black', showgrid=False, zeroline=False, showline=True, mirror=True,
                 linecolor='black', linewidth=1, automargin=False,
                 title=dict(text='Average log-expression', standoff=62))
fig.update_yaxes(range=[0.147, 1.787], tickvals=[0.5, 1.0, 1.5], ticktext=['0.5', '1.0', '1.5'],
                 tickangle=-90, ticks='outside', ticklen=7, tickcolor='black', showgrid=False,
                 zeroline=False, showline=True, mirror=True, linecolor='black', linewidth=1,
                 ticklabelstandoff=12, automargin=False,
                 title=dict(text='sqrt(sigma)', standoff=38))

fig.write_html("out.html")
